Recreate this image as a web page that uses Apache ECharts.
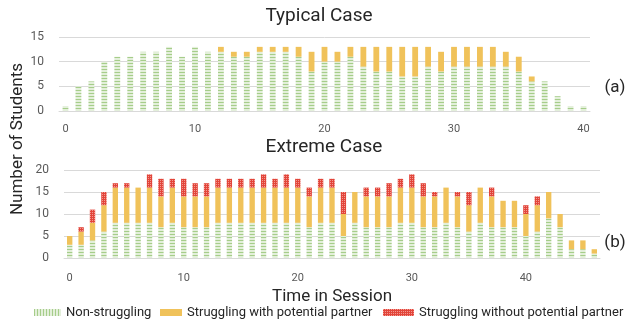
<!DOCTYPE html>
<html><head><meta charset="utf-8">
<script src="https://cdn.jsdelivr.net/npm/echarts@6/dist/echarts.min.js"></script>
<style>html,body{margin:0;padding:0;background:#fff}#c{width:633px;height:323px}</style>
</head><body><div id="c"></div>
<script>
// ---- data ----
const typicalTimes = ['0','1','2','3','4','5','6','7','8','9','10','11','12','13','14','15','16','17','18','19','20','21','22','23','24','25','26','27','28','29','30','31','32','33','34','35','36','37','38','39','40'];
const typicalNon  = [1,5,6,10,11,11,12,12,13,11,13,12,12,11,11,12,12,12,11,8,10,10,11,9,8,8,7,7,9,8,9,9,9,9,9,8,6,6,3,1,1];
const typicalWith = [0,0,0,0,0,0,0,0,0,0,0,0,1,1,1,1,1,1,2,4,3,2,2,4,5,5,6,6,4,4,4,4,4,4,3,3,1,0,0,0,0];

const extremeTimes = ['0','1','2','3','4','5','6','7','8','9','10','11','12','13','14','15','16','17','18','19','20','21','22','23','24','25','26','27','28','29','30','31','32','33','34','35','36','37','38','39','40','41','42','43','44','45','46'];
const extremeNon     = [3,3,4,6,8,8,8,8,7,8,7,7,7,8,8,8,8,8,8,8,8,7,8,8,5,8,7,7,7,8,8,7,7,8,7,6,8,7,7,7,5,6,9,7,2,2,1];
const extremeWith    = [2,3,4,6,8,8,8,8,7,8,7,7,7,8,8,8,8,8,8,8,8,7,8,8,5,7,7,7,7,8,8,7,7,8,7,6,8,7,6,6,5,6,6,3,2,2,1];
const extremeWithout = [0,1,3,3,1,1,0,3,4,2,4,3,3,2,2,2,2,3,2,3,2,2,2,2,5,0,2,2,3,2,3,3,1,0,1,3,0,2,0,0,2,2,0,0,0,0,0];

const typicalYTicks = {min:0, max:15, interval:5};
const extremeYTicks = {min:0, max:20, interval:5};

const NAME_NON = 'Non-struggling';
const NAME_WITH = 'Struggling with potential partner';
const NAME_WITHOUT = 'Struggling without potential partner';

// ---- patterns ----
function stripe(vertical){
  const c=document.createElement('canvas'); c.width=3; c.height=3;
  const g=c.getContext('2d');
  g.fillStyle='#E3EFDA'; g.fillRect(0,0,3,3);
  g.fillStyle='#A6CD8A';
  if(vertical) g.fillRect(0,0,1,3); else g.fillRect(0,0,3,1);
  return {image:c, repeat:'repeat'};
}
function checker(){
  const c=document.createElement('canvas'); c.width=2; c.height=2;
  const g=c.getContext('2d');
  g.fillStyle='#E2453A'; g.fillRect(0,0,2,2);
  g.fillStyle='#F29890'; g.fillRect(0,0,1,1);
  return {image:c, repeat:'repeat'};
}
const greenH = stripe(false), greenV = stripe(true), redC = checker();
const YELLOW = '#F0C25A';

const chart = echarts.init(document.getElementById('c'), null, {renderer:'canvas'});
const labelColor = '#595959', gridColor = '#D9D9D9', textDark = '#262626';
const FONT = 'Roboto';

function xAxis(idx, data, margin, extra){
  return Object.assign({
    type:'category', gridIndex:idx, data:data,
    axisTick:{show:false},
    axisLine:{lineStyle:{color:gridColor}},
    axisLabel:{interval:9, color:labelColor, fontSize:11, fontFamily:FONT, margin:margin}
  }, extra||{});
}
function yAxis(idx, t){
  return {
    type:'value', gridIndex:idx, min:t.min, max:t.max, interval:t.interval,
    axisLine:{show:false}, axisTick:{show:false},
    splitLine:{lineStyle:{color:gridColor}},
    axisLabel:{color:labelColor, fontSize:12, fontFamily:FONT, margin:15}
  };
}
function legend(name, left, w, icon){
  return {
    left:left, top:306, padding:0, itemWidth:w, itemHeight:7, icon:'rect',
    selectedMode:false,
    textStyle:{fontSize:13, color:textDark, fontFamily:FONT},
    data:[{name:name, icon:'rect', itemStyle: icon ? {color:icon} : undefined}]
  };
}

chart.setOption({
  animation:false,
  textStyle:{fontFamily:FONT},
  title:[
    {text:'Typical Case', left:319, top:7, textAlign:'center', padding:0,
     textStyle:{fontSize:19, fontWeight:'normal', color:textDark, fontFamily:FONT}},
    {text:'Extreme Case', left:324, top:138, textAlign:'center', padding:0,
     textStyle:{fontSize:19, fontWeight:'normal', color:textDark, fontFamily:FONT}}
  ],
  grid:[
    {left:59, right:43, top:37, height:74},
    {left:64, right:33, top:170, height:88}
  ],
  xAxis:[
    xAxis(0, typicalTimes, 13),
    xAxis(1, extremeTimes, 15, {name:'Time in Session', nameLocation:'middle', nameGap:30,
      nameTextStyle:{fontSize:17, color:textDark, fontFamily:FONT}})
  ],
  yAxis:[ yAxis(0, typicalYTicks), yAxis(1, extremeYTicks) ],
  legend:[
    legend(NAME_NON, 34, 27, greenV),
    legend(NAME_WITH, 160, 22),
    legend(NAME_WITHOUT, 383, 31)
  ],
  graphic:[
    {type:'text', x:18, y:139, rotation:Math.PI/2,
     style:{text:'Number of Students', fontSize:17, fontFamily:FONT, fill:textDark, align:'center', verticalAlign:'middle'}},
    {type:'text', x:615, y:88,
     style:{text:'(a)', fontSize:17, fontFamily:FONT, fill:textDark, align:'center', verticalAlign:'middle'}},
    {type:'text', x:615, y:243,
     style:{text:'(b)', fontSize:17, fontFamily:FONT, fill:textDark, align:'center', verticalAlign:'middle'}}
  ],
  series:[
    {name:NAME_NON, type:'bar', stack:'a', xAxisIndex:0, yAxisIndex:0, barWidth:'45%', data:typicalNon, itemStyle:{color:greenH}},
    {name:NAME_WITH, type:'bar', stack:'a', xAxisIndex:0, yAxisIndex:0, barWidth:'45%', data:typicalWith, itemStyle:{color:YELLOW}},
    {name:NAME_NON, type:'bar', stack:'b', xAxisIndex:1, yAxisIndex:1, barWidth:'47%', data:extremeNon, itemStyle:{color:greenH}},
    {name:NAME_WITH, type:'bar', stack:'b', xAxisIndex:1, yAxisIndex:1, barWidth:'47%', data:extremeWith, itemStyle:{color:YELLOW}},
    {name:NAME_WITHOUT, type:'bar', stack:'b', xAxisIndex:1, yAxisIndex:1, barWidth:'47%', data:extremeWithout, itemStyle:{color:redC}}
  ]
});
</script>
</body></html>
